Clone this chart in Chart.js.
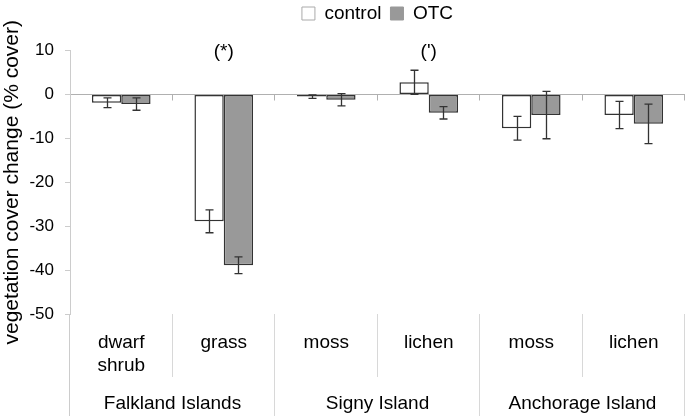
<!DOCTYPE html>
<html><head><meta charset="utf-8">
<script src="https://cdn.jsdelivr.net/npm/chart.js@4"></script>
<style>html,body{margin:0;padding:0;background:#fff}</style>
</head><body>
<canvas id="c" width="685" height="416"></canvas>
<script>
const categories = [['dwarf','shrub'], 'grass', 'moss', 'lichen', 'moss', 'lichen'];
const groups = ['Falkland Islands', 'Signy Island', 'Anchorage Island'];
const groupSizes = [2, 2, 2];
const controlValues = [-1.9, -28.9, -0.5, 2.75, -7.7, -4.7];
const controlErrors = [1.1, 2.6, 0.4, 2.75, 2.7, 3.1];
const otcValues = [-2.2, -38.9, -1.2, -4.2, -4.7, -6.7];
const otcErrors = [1.4, 1.9, 1.4, 1.4, 5.4, 4.5];
const significance = ['', '(*)', '', "(')", '', ''];
const yTicks = [10, 0, -10, -20, -30, -40, -50];
const seriesNames = ['control', 'OTC'];

const FONT = "'Liberation Sans', Arial, sans-serif";
const errorsBySeries = [controlErrors, otcErrors];

const decor = {
  id: 'decor',
  beforeLayout(chart) {
    const lg = chart.legend;
    if (lg && !lg._patched) {
      const f = lg.fit;
      lg.fit = function () { f.call(this); this.height = 50.5; };
      lg._patched = true;
    }
  },
  afterLayout(chart) {
    const lg = chart.legend;
    if (lg) { lg.top -= 5; lg.bottom -= 5; }
  },
  afterDatasetsDraw(chart) {
    const ctx = chart.ctx, xs = chart.scales.x, ys = chart.scales.y, ca = chart.chartArea;
    ctx.save();
    // error bars
    chart.data.datasets.forEach((ds, di) => {
      const meta = chart.getDatasetMeta(di);
      const errs = errorsBySeries[di];
      meta.data.forEach((el, i) => {
        const v = ds.data[i], e = errs[i];
        const x = Math.round(el.x) + 0.5;
        const y1 = ys.getPixelForValue(v + e), y2 = ys.getPixelForValue(v - e);
        ctx.strokeStyle = '#333';
        ctx.lineWidth = 1.3;
        ctx.beginPath();
        ctx.moveTo(x, y1); ctx.lineTo(x, y2);
        ctx.moveTo(x - 4, y1); ctx.lineTo(x + 4, y1);
        ctx.moveTo(x - 4, y2); ctx.lineTo(x + 4, y2);
        ctx.stroke();
      });
    });
    // significance marks
    ctx.fillStyle = '#000';
    ctx.font = '19px ' + FONT;
    ctx.textAlign = 'center';
    ctx.textBaseline = 'middle';
    significance.forEach((s, i) => {
      if (s) ctx.fillText(s, xs.getPixelForValue(i), ys.getPixelForValue(yTicks[0]) + 1);
    });
    // small ticks on zero line at category boundaries
    const y0 = Math.round(ys.getPixelForValue(0)) + 0.5;
    const n = categories.length;
    const step = (xs.getPixelForValue(n - 1) - xs.getPixelForValue(0)) / (n - 1);
    ctx.strokeStyle = '#b0b0b0';
    ctx.lineWidth = 1;
    ctx.beginPath();
    for (let i = 1; i <= n; i++) {
      let bx = Math.round(xs.getPixelForValue(i - 1) + step / 2) - 0.5;
      if (i === n) bx = ca.right - 0.5;
      ctx.moveTo(bx, y0); ctx.lineTo(bx, y0 + 6);
    }
    ctx.stroke();
    ctx.restore();
  },
  afterDraw(chart) {
    const ctx = chart.ctx, xs = chart.scales.x, ys = chart.scales.y, ca = chart.chartArea;
    const H = chart.height;
    const n = categories.length;
    const step = (xs.getPixelForValue(n - 1) - xs.getPixelForValue(0)) / (n - 1);
    ctx.save();
    // extend y axis line down
    ctx.strokeStyle = '#cccccc';
    ctx.lineWidth = 1;
    const ax = Math.round(ca.left) - 0.5;
    ctx.beginPath(); ctx.moveTo(ax, ca.bottom); ctx.lineTo(ax, H); ctx.stroke();
    // separators
    ctx.strokeStyle = '#d8d8d8';
    let idx = 0;
    const groupEnds = [];
    groupSizes.forEach(g => { idx += g; groupEnds.push(idx); });
    ctx.beginPath();
    for (let i = 1; i <= n; i++) {
      let bx = Math.round(xs.getPixelForValue(i - 1) + step / 2) - 0.5;
      if (i === n) bx = ca.right - 0.5;
      const full = groupEnds.includes(i);
      ctx.moveTo(bx, ca.bottom);
      ctx.lineTo(bx, full ? H : ca.bottom + 63);
    }
    ctx.stroke();
    // group labels
    ctx.fillStyle = '#000';
    ctx.font = '19px ' + FONT;
    ctx.textAlign = 'center';
    ctx.textBaseline = 'middle';
    let start = 0;
    groups.forEach((g, gi) => {
      const end = start + groupSizes[gi] - 1;
      const cx = (xs.getPixelForValue(start) + xs.getPixelForValue(end)) / 2;
      ctx.fillText(g, cx, ca.bottom + 90);
      start = end + 1;
    });
    ctx.restore();
  }
};

new Chart(document.getElementById('c'), {
  type: 'bar',
  data: {
    labels: categories,
    datasets: [
      { label: seriesNames[0], data: controlValues, backgroundColor: '#ffffff', borderColor: '#333333', borderWidth: 1.5, borderSkipped: false },
      { label: seriesNames[1], data: otcValues, backgroundColor: '#999999', borderColor: '#333333', borderWidth: 1.5, borderSkipped: false }
    ]
  },
  options: {
    responsive: false,
    animation: false,
    devicePixelRatio: 1,
    layout: { padding: 0 },
    datasets: { bar: { categoryPercentage: 0.572, barPercentage: 1 } },
    plugins: {
      tooltip: { enabled: false },
      legend: {
        position: 'top',
        fullSize: false,
        labels: {
          font: { family: FONT, size: 19 },
          color: '#000',
          boxWidth: 13,
          boxHeight: 13,
          padding: 9,
          generateLabels: (chart) => [
            { text: seriesNames[0], fillStyle: '#ffffff', strokeStyle: '#aaaaaa', lineWidth: 1, datasetIndex: 0, fontColor: '#000' },
            { text: seriesNames[1], fillStyle: '#999999', strokeStyle: '#999999', lineWidth: 1, datasetIndex: 1, fontColor: '#000' }
          ]
        }
      }
    },
    scales: {
      x: {
        grid: { display: false, drawTicks: false },
        border: { display: false },
        ticks: { font: { family: FONT, size: 19, lineHeight: 1.22 }, color: '#000', padding: 17, maxRotation: 0, autoSkip: false },
        afterFit: (s) => { s.height = 102; }
      },
      y: {
        min: yTicks[yTicks.length - 1],
        max: yTicks[0],
        afterBuildTicks: (s) => { s.ticks = yTicks.map(v => ({ value: v })); },
        grid: {
          drawOnChartArea: true,
          color: (c) => (c.tick && c.tick.value === 0) ? '#b0b0b0' : 'rgba(0,0,0,0)',
          tickColor: '#cccccc',
          tickLength: 5
        },
        border: { display: true, color: '#cccccc' },
        ticks: { font: { family: FONT, size: 17 }, color: '#000', padding: 11 },
        title: { display: true, text: 'vegetation cover change (% cover)', font: { family: FONT, size: 21 }, color: '#000', padding: 0 },
        afterFit: (s) => { s.width = 70; }
      }
    }
  },
  plugins: [decor]
});
</script>
</body></html>
